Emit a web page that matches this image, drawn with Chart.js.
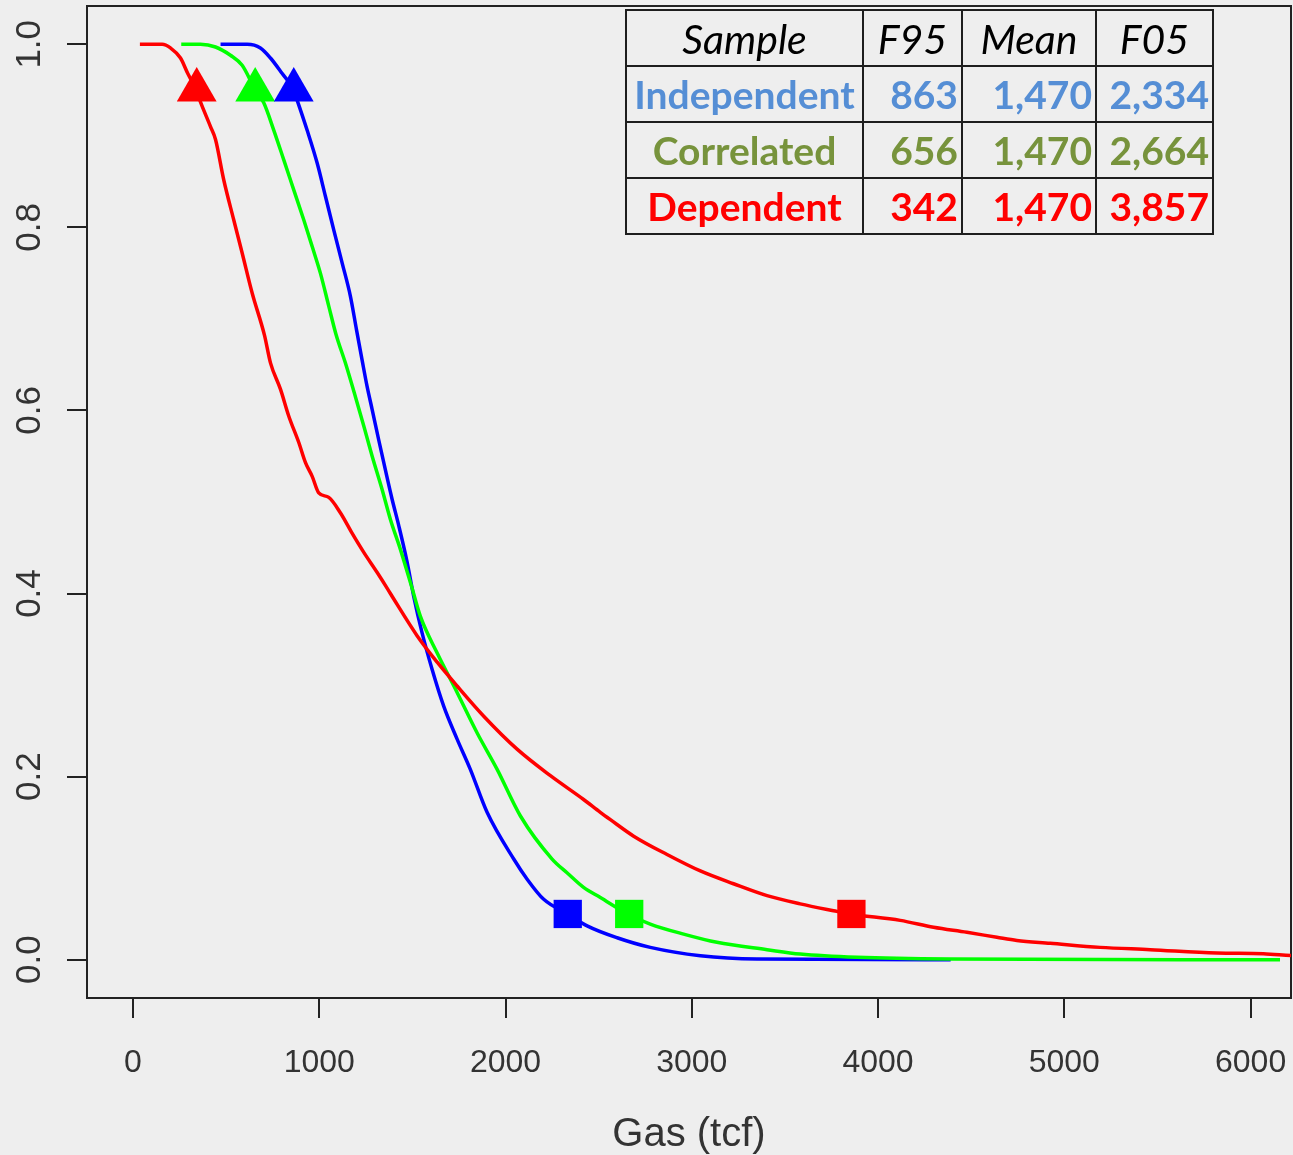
<!DOCTYPE html>
<html>
<head>
<meta charset="utf-8">
<title>Gas (tcf)</title>
<script src="https://cdn.jsdelivr.net/npm/chart.js@4.4.0/dist/chart.umd.min.js"></script>
<style>
body { margin: 0; background: #eeeeee; }
#wrap { position: relative; width: 1293px; height: 1155px; overflow: hidden; }
#stats {
  position: absolute; left: 625px; top: 9px;
  border-collapse: collapse; table-layout: fixed;
  font-family: Lato, "Open Sans", sans-serif;
}
#stats td { border: 2px solid #1e1e1e; padding: 0 3px; font-size: 39px; white-space: nowrap; }
#stats tr { height: 56px; }
#stats .head td { font-style: italic; font-weight: normal; font-size: 41px; color: #000; text-align: center; }
#stats .row td { font-weight: bold; text-align: right; }
#stats .row td:first-child { text-align: center; }
</style>
</head>
<body>
<div id="wrap">
  <canvas id="myChart" width="1293" height="1155"></canvas>
  <table id="stats">
    <colgroup><col style="width:237px"><col style="width:99px"><col style="width:134px"><col style="width:117px"></colgroup>
  </table>
</div>
<script>
// table
const tableHead = ['Sample', 'F95', 'Mean', 'F05']
const samples = ['Independent', 'Correlated', 'Dependent']
const sampleColors = ['#558ed5', '#77933c', '#ff0000']
const f95 = [863, 656, 342]
const meanVals = [1470, 1470, 1470]
const f05 = [2334, 2664, 3857]

// curves (exceedance probability vs gas)
const indX = [470, 613, 684, 738, 801, 860, 881, 935, 989, 1033, 1078, 1123, 1167, 1200, 1230, 1257, 1284, 1319, 1355, 1391, 1427, 1470, 1507, 1552, 1606, 1668, 1740, 1811, 1901, 2044, 2116, 2205, 2334, 2438, 2599, 2777, 3046, 3350, 4390]
const indY = [1.0, 1.0, 0.996, 0.985, 0.968, 0.951, 0.939, 0.906, 0.870, 0.834, 0.797, 0.761, 0.725, 0.688, 0.655, 0.626, 0.601, 0.568, 0.535, 0.503, 0.474, 0.436, 0.397, 0.357, 0.317, 0.277, 0.241, 0.208, 0.161, 0.110, 0.088, 0.066, 0.050, 0.037, 0.024, 0.0135, 0.0044, 0.0008, 0.0]

const corX = [259, 362, 443, 523, 586, 652, 702, 756, 809, 863, 917, 962, 1006, 1051, 1090, 1140, 1194, 1239, 1284, 1337, 1382, 1436, 1498, 1543, 1633, 1740, 1847, 1955, 2080, 2250, 2330, 2419, 2509, 2656, 2777, 2956, 3135, 3404, 3582, 3887, 4387, 6158]
const corY = [1.0, 1.0, 0.997, 0.988, 0.977, 0.952, 0.936, 0.906, 0.874, 0.841, 0.808, 0.779, 0.750, 0.714, 0.683, 0.652, 0.615, 0.583, 0.550, 0.514, 0.481, 0.448, 0.406, 0.375, 0.335, 0.292, 0.248, 0.208, 0.157, 0.110, 0.095, 0.079, 0.068, 0.050, 0.039, 0.028, 0.019, 0.011, 0.0062, 0.0026, 0.0008, 0.0]

const depX = [37, 157, 201, 255, 294, 335, 362, 416, 443, 487, 541, 586, 640, 706, 738, 792, 836, 890, 926, 962, 997, 1051, 1114, 1176, 1239, 1311, 1364, 1400, 1525, 1633, 1740, 1883, 2062, 2241, 2419, 2509, 2563, 2688, 2867, 3046, 3224, 3404, 3582, 3761, 3850, 4119, 4298, 4477, 4638, 4745, 4924, 5192, 5461, 5819, 6069, 6228, 6300]
const depY = [1.0, 1.0, 0.996, 0.985, 0.968, 0.952, 0.937, 0.910, 0.896, 0.852, 0.808, 0.772, 0.728, 0.682, 0.652, 0.623, 0.594, 0.565, 0.543, 0.528, 0.510, 0.505, 0.488, 0.466, 0.445, 0.423, 0.406, 0.394, 0.354, 0.325, 0.299, 0.266, 0.230, 0.201, 0.175, 0.161, 0.153, 0.135, 0.115, 0.097, 0.083, 0.070, 0.061, 0.0535, 0.050, 0.043, 0.0355, 0.030, 0.0245, 0.021, 0.018, 0.0135, 0.011, 0.0073, 0.0065, 0.0044, 0.004]

const xTicks = [0, 1000, 2000, 3000, 4000, 5000, 6000]
const yTicks = [0, 0.2, 0.4, 0.6, 0.8, 1.0]
const lineColors = ['#0000ff', '#00ff00', '#ff0000']

let tbl = document.querySelector('#stats')
let hr = document.createElement('tr')
hr.className = 'head'
tableHead.forEach(h => {
    let td = document.createElement('td')
    td.innerText = h
    hr.append(td)
})
tbl.append(hr)
for (let i = 0; i < samples.length; i++) {
    let tr = document.createElement('tr')
    tr.className = 'row'
    tr.style.color = sampleColors[i]
    let cells = [samples[i], f95[i].toLocaleString('en-US'), meanVals[i].toLocaleString('en-US'), f05[i].toLocaleString('en-US')]
    cells.forEach(c => {
        let td = document.createElement('td')
        td.innerText = c
        tr.append(td)
    })
    tbl.append(tr)
}

const toPoints = (xs, ys) => xs.map((x, i) => ({x: x, y: ys[i]}))

const curve = (xs, ys, color, order) => ({
    data: toPoints(xs, ys),
    borderColor: color,
    borderWidth: 3.5,
    pointRadius: 0,
    cubicInterpolationMode: 'monotone',
    fill: false,
    order: order
})

const markers = (vals, prob, color, style, radius) => ({
    data: vals.map(v => ({x: v, y: prob})),
    showLine: false,
    pointStyle: style,
    pointRadius: radius,
    pointBackgroundColor: color,
    pointBorderWidth: 0,
    order: 0
})

const datasets = [
    curve(indX, indY, lineColors[0], 3),
    curve(corX, corY, lineColors[1], 2),
    curve(depX, depY, lineColors[2], 1)
]
// one marker per sample: triangles at F95, squares at F05
for (let i = 0; i < samples.length; i++) {
    datasets.push(markers([f95[i]], 0.95, lineColors[i], 'triangle', 23))
    datasets.push(markers([f05[i]], 0.05, lineColors[i], 'rect', 20))
}

const frame = {
    id: 'frame',
    beforeDatasetsDraw(chart) {
        const a = chart.chartArea
        const ctx = chart.ctx
        ctx.save()
        ctx.strokeStyle = '#222'
        ctx.lineWidth = 2
        ctx.strokeRect(a.left, a.top, a.right - a.left, a.bottom - a.top)
        ctx.restore()
    },
    afterDraw(chart) {
        const ys = chart.scales.y
        const ctx = chart.ctx
        ctx.save()
        ctx.fillStyle = '#333'
        ctx.font = '35px "Liberation Sans", Arial, sans-serif'
        ctx.textAlign = 'center'
        ctx.textBaseline = 'middle'
        yTicks.forEach(v => {
            ctx.save()
            ctx.translate(30, ys.getPixelForValue(v))
            ctx.rotate(-Math.PI / 2)
            ctx.fillText(v.toFixed(1), 0, 0)
            ctx.restore()
        })
        ctx.restore()
    }
}

const tickFont = {family: '"Liberation Sans", Arial, sans-serif', size: 32}
const noPad = s => { s.paddingLeft = 0; s.paddingRight = 0; s.paddingTop = 0; s.paddingBottom = 0 }

new Chart(document.querySelector('#myChart'), {
    type: 'line',
    data: {datasets: datasets},
    plugins: [frame],
    options: {
        responsive: false,
        devicePixelRatio: 1,
        animation: false,
        layout: {autoPadding: false, padding: {top: 6, right: 2, left: 0, bottom: 0}},
        plugins: {legend: {display: false}, tooltip: {enabled: false}},
        scales: {
            x: {
                type: 'linear',
                min: -247,
                max: 6217,
                afterFit: s => { s.height = 157; noPad(s) },
                afterBuildTicks: s => { s.ticks = xTicks.map(v => ({value: v})) },
                border: {display: false},
                grid: {drawOnChartArea: false, drawTicks: true, tickLength: 20, color: '#222', lineWidth: 2},
                ticks: {font: tickFont, color: '#333', padding: 26, maxRotation: 0, autoSkip: false, callback: v => String(v)},
                title: {display: true, text: 'Gas (tcf)', font: {family: '"Liberation Sans", Arial, sans-serif', size: 40, lineHeight: 1.0}, color: '#333', padding: {top: 0, bottom: 0}}
            },
            y: {
                type: 'linear',
                min: -0.0418,
                max: 1.0418,
                afterFit: s => { s.width = 87; noPad(s) },
                afterBuildTicks: s => { s.ticks = yTicks.map(v => ({value: v})) },
                border: {display: false},
                grid: {drawOnChartArea: false, drawTicks: true, tickLength: 20, color: '#222', lineWidth: 2},
                ticks: {display: false}
            }
        }
    }
})
</script>
</body>
</html>
